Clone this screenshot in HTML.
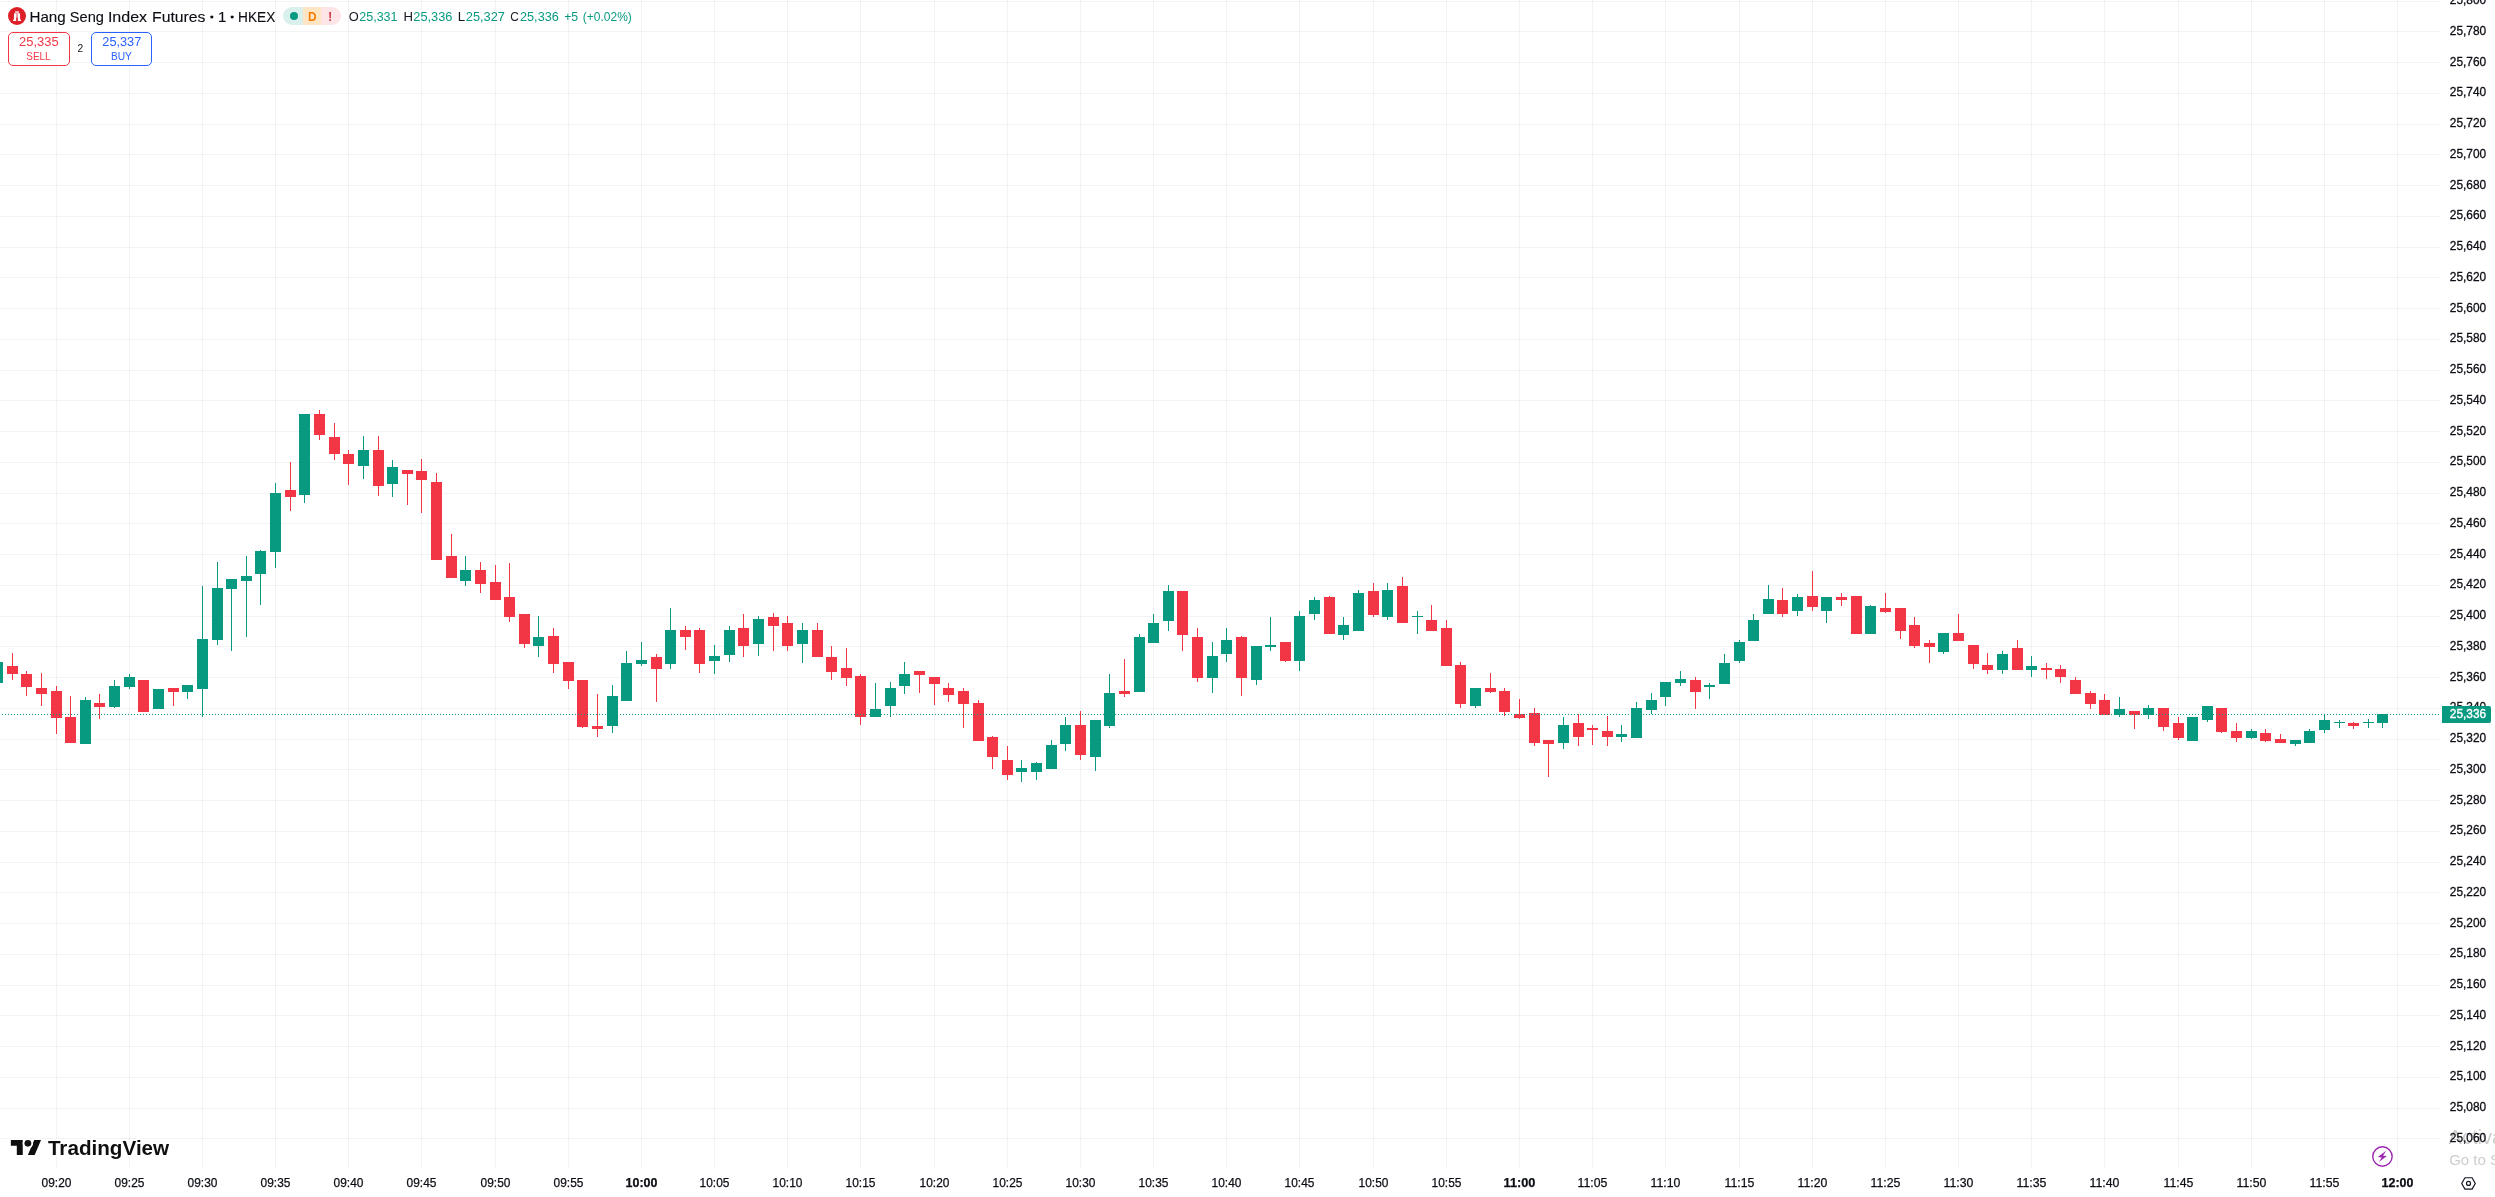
<!DOCTYPE html>
<html lang="en"><head><meta charset="utf-8"><title>Hang Seng Index Futures · 1 · HKEX — TradingView</title>
<style>
html,body{margin:0;padding:0;background:#fff;}
body{width:2495px;height:1197px;overflow:hidden;position:relative;font-family:"Liberation Sans",sans-serif;color:#131722;}
#chart{position:absolute;left:0;top:0;width:2495px;height:1197px;display:block;will-change:transform;}
text{font-family:"Liberation Sans",sans-serif;}
.btn{position:absolute;top:32px;height:32px;border-radius:5px;background:#fff;border:1px solid;}
#sell{left:8px;width:60px;border-color:#f23645;}
#buy{left:91px;width:59px;border-color:#2962ff;}
#lastprice{position:absolute;left:2442px;top:706px;width:49px;height:17px;background:#089981;border-radius:0 2px 2px 0;}
</style></head><body>
<svg id="chart" width="2495" height="1197" viewBox="0 0 2495 1197">
<g id="grid" shape-rendering="crispEdges" fill="rgba(46,46,46,0.06)">
<rect x="56" y="0" width="1" height="1169"/>
<rect x="129" y="0" width="1" height="1169"/>
<rect x="202" y="0" width="1" height="1169"/>
<rect x="275" y="0" width="1" height="1169"/>
<rect x="348" y="0" width="1" height="1169"/>
<rect x="421" y="0" width="1" height="1169"/>
<rect x="495" y="0" width="1" height="1169"/>
<rect x="568" y="0" width="1" height="1169"/>
<rect x="641" y="0" width="1" height="1169"/>
<rect x="714" y="0" width="1" height="1169"/>
<rect x="787" y="0" width="1" height="1169"/>
<rect x="860" y="0" width="1" height="1169"/>
<rect x="934" y="0" width="1" height="1169"/>
<rect x="1007" y="0" width="1" height="1169"/>
<rect x="1080" y="0" width="1" height="1169"/>
<rect x="1153" y="0" width="1" height="1169"/>
<rect x="1226" y="0" width="1" height="1169"/>
<rect x="1299" y="0" width="1" height="1169"/>
<rect x="1373" y="0" width="1" height="1169"/>
<rect x="1446" y="0" width="1" height="1169"/>
<rect x="1519" y="0" width="1" height="1169"/>
<rect x="1592" y="0" width="1" height="1169"/>
<rect x="1665" y="0" width="1" height="1169"/>
<rect x="1739" y="0" width="1" height="1169"/>
<rect x="1812" y="0" width="1" height="1169"/>
<rect x="1885" y="0" width="1" height="1169"/>
<rect x="1958" y="0" width="1" height="1169"/>
<rect x="2031" y="0" width="1" height="1169"/>
<rect x="2104" y="0" width="1" height="1169"/>
<rect x="2178" y="0" width="1" height="1169"/>
<rect x="2251" y="0" width="1" height="1169"/>
<rect x="2324" y="0" width="1" height="1169"/>
<rect x="2397" y="0" width="1" height="1169"/>
<rect x="0" y="1" width="2441" height="1"/>
<rect x="0" y="31" width="2441" height="1"/>
<rect x="0" y="62" width="2441" height="1"/>
<rect x="0" y="93" width="2441" height="1"/>
<rect x="0" y="124" width="2441" height="1"/>
<rect x="0" y="154" width="2441" height="1"/>
<rect x="0" y="185" width="2441" height="1"/>
<rect x="0" y="216" width="2441" height="1"/>
<rect x="0" y="247" width="2441" height="1"/>
<rect x="0" y="277" width="2441" height="1"/>
<rect x="0" y="308" width="2441" height="1"/>
<rect x="0" y="339" width="2441" height="1"/>
<rect x="0" y="370" width="2441" height="1"/>
<rect x="0" y="400" width="2441" height="1"/>
<rect x="0" y="431" width="2441" height="1"/>
<rect x="0" y="462" width="2441" height="1"/>
<rect x="0" y="493" width="2441" height="1"/>
<rect x="0" y="523" width="2441" height="1"/>
<rect x="0" y="554" width="2441" height="1"/>
<rect x="0" y="585" width="2441" height="1"/>
<rect x="0" y="616" width="2441" height="1"/>
<rect x="0" y="646" width="2441" height="1"/>
<rect x="0" y="677" width="2441" height="1"/>
<rect x="0" y="708" width="2441" height="1"/>
<rect x="0" y="739" width="2441" height="1"/>
<rect x="0" y="769" width="2441" height="1"/>
<rect x="0" y="800" width="2441" height="1"/>
<rect x="0" y="831" width="2441" height="1"/>
<rect x="0" y="862" width="2441" height="1"/>
<rect x="0" y="892" width="2441" height="1"/>
<rect x="0" y="923" width="2441" height="1"/>
<rect x="0" y="954" width="2441" height="1"/>
<rect x="0" y="985" width="2441" height="1"/>
<rect x="0" y="1015" width="2441" height="1"/>
<rect x="0" y="1046" width="2441" height="1"/>
<rect x="0" y="1077" width="2441" height="1"/>
<rect x="0" y="1108" width="2441" height="1"/>
<rect x="0" y="1138" width="2441" height="1"/>
</g>
<g id="watermark" fill="#cdcdcd">
<text x="2448.6" y="1143.8" font-size="20">Activate Windows</text>
<text x="2449.2" y="1164.9" font-size="15">Go to Settings to activate Windows.</text>
</g>
<g id="candles" shape-rendering="crispEdges">
<g fill="#089981"><rect x="-3" y="662" width="1" height="21"/><rect x="-8" y="662" width="11" height="21"/></g>
<g fill="#f23645"><rect x="12" y="653" width="1" height="27"/><rect x="7" y="666" width="11" height="8"/></g>
<g fill="#f23645"><rect x="26" y="671" width="1" height="25"/><rect x="21" y="674" width="11" height="13"/></g>
<g fill="#f23645"><rect x="41" y="673" width="1" height="33"/><rect x="36" y="688" width="11" height="6"/></g>
<g fill="#f23645"><rect x="56" y="686" width="1" height="48"/><rect x="51" y="691" width="11" height="27"/></g>
<g fill="#f23645"><rect x="70" y="696" width="1" height="47"/><rect x="65" y="717" width="11" height="26"/></g>
<g fill="#089981"><rect x="85" y="697" width="1" height="47"/><rect x="80" y="700" width="11" height="44"/></g>
<g fill="#f23645"><rect x="99" y="694" width="1" height="25"/><rect x="94" y="703" width="11" height="4"/></g>
<g fill="#089981"><rect x="114" y="680" width="1" height="28"/><rect x="109" y="686" width="11" height="21"/></g>
<g fill="#089981"><rect x="129" y="674" width="1" height="15"/><rect x="124" y="677" width="11" height="10"/></g>
<g fill="#f23645"><rect x="143" y="680" width="1" height="32"/><rect x="138" y="680" width="11" height="32"/></g>
<g fill="#089981"><rect x="158" y="689" width="1" height="20"/><rect x="153" y="689" width="11" height="20"/></g>
<g fill="#f23645"><rect x="173" y="688" width="1" height="18"/><rect x="168" y="688" width="11" height="4"/></g>
<g fill="#089981"><rect x="187" y="685" width="1" height="14"/><rect x="182" y="685" width="11" height="7"/></g>
<g fill="#089981"><rect x="202" y="586" width="1" height="131"/><rect x="197" y="639" width="11" height="50"/></g>
<g fill="#089981"><rect x="217" y="562" width="1" height="83"/><rect x="212" y="588" width="11" height="52"/></g>
<g fill="#089981"><rect x="231" y="579" width="1" height="72"/><rect x="226" y="579" width="11" height="10"/></g>
<g fill="#089981"><rect x="246" y="556" width="1" height="81"/><rect x="241" y="576" width="11" height="5"/></g>
<g fill="#089981"><rect x="260" y="550" width="1" height="55"/><rect x="255" y="551" width="11" height="23"/></g>
<g fill="#089981"><rect x="275" y="483" width="1" height="85"/><rect x="270" y="493" width="11" height="59"/></g>
<g fill="#f23645"><rect x="290" y="462" width="1" height="49"/><rect x="285" y="490" width="11" height="7"/></g>
<g fill="#089981"><rect x="304" y="414" width="1" height="89"/><rect x="299" y="414" width="11" height="81"/></g>
<g fill="#f23645"><rect x="319" y="410" width="1" height="30"/><rect x="314" y="414" width="11" height="21"/></g>
<g fill="#f23645"><rect x="334" y="423" width="1" height="37"/><rect x="329" y="437" width="11" height="17"/></g>
<g fill="#f23645"><rect x="348" y="450" width="1" height="35"/><rect x="343" y="454" width="11" height="10"/></g>
<g fill="#089981"><rect x="363" y="436" width="1" height="43"/><rect x="358" y="450" width="11" height="16"/></g>
<g fill="#f23645"><rect x="378" y="436" width="1" height="60"/><rect x="373" y="450" width="11" height="36"/></g>
<g fill="#089981"><rect x="392" y="460" width="1" height="37"/><rect x="387" y="467" width="11" height="17"/></g>
<g fill="#f23645"><rect x="407" y="470" width="1" height="35"/><rect x="402" y="470" width="11" height="4"/></g>
<g fill="#f23645"><rect x="421" y="459" width="1" height="54"/><rect x="416" y="471" width="11" height="9"/></g>
<g fill="#f23645"><rect x="436" y="473" width="1" height="87"/><rect x="431" y="482" width="11" height="78"/></g>
<g fill="#f23645"><rect x="451" y="534" width="1" height="44"/><rect x="446" y="556" width="11" height="22"/></g>
<g fill="#089981"><rect x="465" y="556" width="1" height="30"/><rect x="460" y="570" width="11" height="11"/></g>
<g fill="#f23645"><rect x="480" y="562" width="1" height="31"/><rect x="475" y="570" width="11" height="14"/></g>
<g fill="#f23645"><rect x="495" y="565" width="1" height="35"/><rect x="490" y="582" width="11" height="18"/></g>
<g fill="#f23645"><rect x="509" y="563" width="1" height="59"/><rect x="504" y="597" width="11" height="20"/></g>
<g fill="#f23645"><rect x="524" y="614" width="1" height="34"/><rect x="519" y="614" width="11" height="30"/></g>
<g fill="#089981"><rect x="538" y="616" width="1" height="41"/><rect x="533" y="637" width="11" height="9"/></g>
<g fill="#f23645"><rect x="553" y="628" width="1" height="45"/><rect x="548" y="636" width="11" height="28"/></g>
<g fill="#f23645"><rect x="568" y="662" width="1" height="27"/><rect x="563" y="662" width="11" height="19"/></g>
<g fill="#f23645"><rect x="582" y="680" width="1" height="48"/><rect x="577" y="680" width="11" height="47"/></g>
<g fill="#f23645"><rect x="597" y="694" width="1" height="43"/><rect x="592" y="726" width="11" height="3"/></g>
<g fill="#089981"><rect x="612" y="685" width="1" height="48"/><rect x="607" y="696" width="11" height="30"/></g>
<g fill="#089981"><rect x="626" y="651" width="1" height="50"/><rect x="621" y="663" width="11" height="38"/></g>
<g fill="#089981"><rect x="641" y="642" width="1" height="24"/><rect x="636" y="660" width="11" height="4"/></g>
<g fill="#f23645"><rect x="656" y="654" width="1" height="48"/><rect x="651" y="657" width="11" height="12"/></g>
<g fill="#089981"><rect x="670" y="608" width="1" height="61"/><rect x="665" y="630" width="11" height="34"/></g>
<g fill="#f23645"><rect x="685" y="626" width="1" height="24"/><rect x="680" y="630" width="11" height="7"/></g>
<g fill="#f23645"><rect x="699" y="628" width="1" height="45"/><rect x="694" y="630" width="11" height="34"/></g>
<g fill="#089981"><rect x="714" y="645" width="1" height="29"/><rect x="709" y="656" width="11" height="5"/></g>
<g fill="#089981"><rect x="729" y="626" width="1" height="36"/><rect x="724" y="630" width="11" height="25"/></g>
<g fill="#f23645"><rect x="743" y="614" width="1" height="43"/><rect x="738" y="628" width="11" height="18"/></g>
<g fill="#089981"><rect x="758" y="616" width="1" height="40"/><rect x="753" y="619" width="11" height="25"/></g>
<g fill="#f23645"><rect x="773" y="613" width="1" height="38"/><rect x="768" y="617" width="11" height="9"/></g>
<g fill="#f23645"><rect x="787" y="616" width="1" height="35"/><rect x="782" y="623" width="11" height="23"/></g>
<g fill="#089981"><rect x="802" y="623" width="1" height="40"/><rect x="797" y="630" width="11" height="14"/></g>
<g fill="#f23645"><rect x="817" y="623" width="1" height="34"/><rect x="812" y="630" width="11" height="27"/></g>
<g fill="#f23645"><rect x="831" y="646" width="1" height="34"/><rect x="826" y="657" width="11" height="15"/></g>
<g fill="#f23645"><rect x="846" y="648" width="1" height="38"/><rect x="841" y="668" width="11" height="10"/></g>
<g fill="#f23645"><rect x="860" y="674" width="1" height="51"/><rect x="855" y="676" width="11" height="41"/></g>
<g fill="#089981"><rect x="875" y="683" width="1" height="34"/><rect x="870" y="709" width="11" height="8"/></g>
<g fill="#089981"><rect x="890" y="682" width="1" height="35"/><rect x="885" y="688" width="11" height="18"/></g>
<g fill="#089981"><rect x="904" y="662" width="1" height="32"/><rect x="899" y="674" width="11" height="12"/></g>
<g fill="#f23645"><rect x="919" y="671" width="1" height="22"/><rect x="914" y="671" width="11" height="4"/></g>
<g fill="#f23645"><rect x="934" y="677" width="1" height="28"/><rect x="929" y="677" width="11" height="7"/></g>
<g fill="#f23645"><rect x="948" y="683" width="1" height="19"/><rect x="943" y="688" width="11" height="7"/></g>
<g fill="#f23645"><rect x="963" y="688" width="1" height="40"/><rect x="958" y="691" width="11" height="13"/></g>
<g fill="#f23645"><rect x="978" y="700" width="1" height="41"/><rect x="973" y="703" width="11" height="38"/></g>
<g fill="#f23645"><rect x="992" y="736" width="1" height="33"/><rect x="987" y="737" width="11" height="20"/></g>
<g fill="#f23645"><rect x="1007" y="746" width="1" height="34"/><rect x="1002" y="760" width="11" height="15"/></g>
<g fill="#089981"><rect x="1021" y="760" width="1" height="22"/><rect x="1016" y="768" width="11" height="4"/></g>
<g fill="#089981"><rect x="1036" y="762" width="1" height="18"/><rect x="1031" y="763" width="11" height="9"/></g>
<g fill="#089981"><rect x="1051" y="740" width="1" height="29"/><rect x="1046" y="745" width="11" height="24"/></g>
<g fill="#089981"><rect x="1065" y="717" width="1" height="34"/><rect x="1060" y="725" width="11" height="19"/></g>
<g fill="#f23645"><rect x="1080" y="711" width="1" height="49"/><rect x="1075" y="725" width="11" height="30"/></g>
<g fill="#089981"><rect x="1095" y="720" width="1" height="51"/><rect x="1090" y="720" width="11" height="37"/></g>
<g fill="#089981"><rect x="1109" y="674" width="1" height="54"/><rect x="1104" y="693" width="11" height="33"/></g>
<g fill="#f23645"><rect x="1124" y="659" width="1" height="38"/><rect x="1119" y="691" width="11" height="3"/></g>
<g fill="#089981"><rect x="1139" y="634" width="1" height="58"/><rect x="1134" y="637" width="11" height="55"/></g>
<g fill="#089981"><rect x="1153" y="614" width="1" height="29"/><rect x="1148" y="623" width="11" height="20"/></g>
<g fill="#089981"><rect x="1168" y="585" width="1" height="46"/><rect x="1163" y="591" width="11" height="30"/></g>
<g fill="#f23645"><rect x="1182" y="591" width="1" height="60"/><rect x="1177" y="591" width="11" height="44"/></g>
<g fill="#f23645"><rect x="1197" y="628" width="1" height="54"/><rect x="1192" y="637" width="11" height="41"/></g>
<g fill="#089981"><rect x="1212" y="642" width="1" height="51"/><rect x="1207" y="656" width="11" height="22"/></g>
<g fill="#089981"><rect x="1226" y="628" width="1" height="34"/><rect x="1221" y="640" width="11" height="14"/></g>
<g fill="#f23645"><rect x="1241" y="636" width="1" height="60"/><rect x="1236" y="637" width="11" height="41"/></g>
<g fill="#089981"><rect x="1256" y="646" width="1" height="39"/><rect x="1251" y="646" width="11" height="34"/></g>
<g fill="#089981"><rect x="1270" y="617" width="1" height="34"/><rect x="1265" y="645" width="11" height="2"/></g>
<g fill="#f23645"><rect x="1285" y="642" width="1" height="20"/><rect x="1280" y="642" width="11" height="19"/></g>
<g fill="#089981"><rect x="1299" y="611" width="1" height="60"/><rect x="1294" y="616" width="11" height="45"/></g>
<g fill="#089981"><rect x="1314" y="597" width="1" height="23"/><rect x="1309" y="600" width="11" height="14"/></g>
<g fill="#f23645"><rect x="1329" y="596" width="1" height="38"/><rect x="1324" y="597" width="11" height="37"/></g>
<g fill="#089981"><rect x="1343" y="617" width="1" height="23"/><rect x="1338" y="625" width="11" height="10"/></g>
<g fill="#089981"><rect x="1358" y="590" width="1" height="41"/><rect x="1353" y="593" width="11" height="38"/></g>
<g fill="#f23645"><rect x="1373" y="583" width="1" height="34"/><rect x="1368" y="591" width="11" height="24"/></g>
<g fill="#089981"><rect x="1387" y="583" width="1" height="37"/><rect x="1382" y="590" width="11" height="27"/></g>
<g fill="#f23645"><rect x="1402" y="577" width="1" height="46"/><rect x="1397" y="586" width="11" height="37"/></g>
<g fill="#089981"><rect x="1417" y="611" width="1" height="23"/><rect x="1412" y="616" width="11" height="1"/></g>
<g fill="#f23645"><rect x="1431" y="605" width="1" height="26"/><rect x="1426" y="620" width="11" height="11"/></g>
<g fill="#f23645"><rect x="1446" y="620" width="1" height="46"/><rect x="1441" y="628" width="11" height="38"/></g>
<g fill="#f23645"><rect x="1460" y="662" width="1" height="46"/><rect x="1455" y="665" width="11" height="39"/></g>
<g fill="#089981"><rect x="1475" y="688" width="1" height="20"/><rect x="1470" y="688" width="11" height="18"/></g>
<g fill="#f23645"><rect x="1490" y="673" width="1" height="20"/><rect x="1485" y="688" width="11" height="4"/></g>
<g fill="#f23645"><rect x="1504" y="688" width="1" height="28"/><rect x="1499" y="691" width="11" height="21"/></g>
<g fill="#f23645"><rect x="1519" y="699" width="1" height="20"/><rect x="1514" y="714" width="11" height="4"/></g>
<g fill="#f23645"><rect x="1534" y="708" width="1" height="38"/><rect x="1529" y="713" width="11" height="30"/></g>
<g fill="#f23645"><rect x="1548" y="740" width="1" height="37"/><rect x="1543" y="740" width="11" height="4"/></g>
<g fill="#089981"><rect x="1563" y="717" width="1" height="32"/><rect x="1558" y="725" width="11" height="18"/></g>
<g fill="#f23645"><rect x="1578" y="714" width="1" height="32"/><rect x="1573" y="723" width="11" height="14"/></g>
<g fill="#f23645"><rect x="1592" y="725" width="1" height="20"/><rect x="1587" y="728" width="11" height="2"/></g>
<g fill="#f23645"><rect x="1607" y="716" width="1" height="30"/><rect x="1602" y="731" width="11" height="6"/></g>
<g fill="#089981"><rect x="1621" y="725" width="1" height="17"/><rect x="1616" y="734" width="11" height="3"/></g>
<g fill="#089981"><rect x="1636" y="702" width="1" height="36"/><rect x="1631" y="708" width="11" height="30"/></g>
<g fill="#089981"><rect x="1651" y="693" width="1" height="21"/><rect x="1646" y="700" width="11" height="10"/></g>
<g fill="#089981"><rect x="1665" y="682" width="1" height="24"/><rect x="1660" y="682" width="11" height="15"/></g>
<g fill="#089981"><rect x="1680" y="671" width="1" height="15"/><rect x="1675" y="679" width="11" height="4"/></g>
<g fill="#f23645"><rect x="1695" y="677" width="1" height="32"/><rect x="1690" y="680" width="11" height="12"/></g>
<g fill="#089981"><rect x="1709" y="683" width="1" height="16"/><rect x="1704" y="685" width="11" height="2"/></g>
<g fill="#089981"><rect x="1724" y="654" width="1" height="30"/><rect x="1719" y="663" width="11" height="21"/></g>
<g fill="#089981"><rect x="1739" y="640" width="1" height="23"/><rect x="1734" y="642" width="11" height="19"/></g>
<g fill="#089981"><rect x="1753" y="614" width="1" height="27"/><rect x="1748" y="620" width="11" height="21"/></g>
<g fill="#089981"><rect x="1768" y="585" width="1" height="29"/><rect x="1763" y="599" width="11" height="15"/></g>
<g fill="#f23645"><rect x="1782" y="588" width="1" height="29"/><rect x="1777" y="600" width="11" height="14"/></g>
<g fill="#089981"><rect x="1797" y="594" width="1" height="22"/><rect x="1792" y="597" width="11" height="14"/></g>
<g fill="#f23645"><rect x="1812" y="571" width="1" height="40"/><rect x="1807" y="596" width="11" height="11"/></g>
<g fill="#089981"><rect x="1826" y="597" width="1" height="26"/><rect x="1821" y="597" width="11" height="14"/></g>
<g fill="#f23645"><rect x="1841" y="593" width="1" height="13"/><rect x="1836" y="597" width="11" height="3"/></g>
<g fill="#f23645"><rect x="1856" y="596" width="1" height="38"/><rect x="1851" y="596" width="11" height="38"/></g>
<g fill="#089981"><rect x="1870" y="605" width="1" height="29"/><rect x="1865" y="606" width="11" height="28"/></g>
<g fill="#f23645"><rect x="1885" y="593" width="1" height="20"/><rect x="1880" y="608" width="11" height="4"/></g>
<g fill="#f23645"><rect x="1900" y="608" width="1" height="31"/><rect x="1895" y="608" width="11" height="23"/></g>
<g fill="#f23645"><rect x="1914" y="617" width="1" height="31"/><rect x="1909" y="625" width="11" height="21"/></g>
<g fill="#f23645"><rect x="1929" y="640" width="1" height="23"/><rect x="1924" y="643" width="11" height="4"/></g>
<g fill="#089981"><rect x="1943" y="633" width="1" height="21"/><rect x="1938" y="633" width="11" height="19"/></g>
<g fill="#f23645"><rect x="1958" y="614" width="1" height="27"/><rect x="1953" y="633" width="11" height="8"/></g>
<g fill="#f23645"><rect x="1973" y="645" width="1" height="24"/><rect x="1968" y="645" width="11" height="19"/></g>
<g fill="#f23645"><rect x="1987" y="653" width="1" height="21"/><rect x="1982" y="665" width="11" height="5"/></g>
<g fill="#089981"><rect x="2002" y="651" width="1" height="23"/><rect x="1997" y="654" width="11" height="16"/></g>
<g fill="#f23645"><rect x="2017" y="640" width="1" height="30"/><rect x="2012" y="648" width="11" height="22"/></g>
<g fill="#089981"><rect x="2031" y="656" width="1" height="21"/><rect x="2026" y="666" width="11" height="4"/></g>
<g fill="#f23645"><rect x="2046" y="663" width="1" height="16"/><rect x="2041" y="668" width="11" height="2"/></g>
<g fill="#f23645"><rect x="2060" y="665" width="1" height="18"/><rect x="2055" y="669" width="11" height="8"/></g>
<g fill="#f23645"><rect x="2075" y="677" width="1" height="17"/><rect x="2070" y="680" width="11" height="14"/></g>
<g fill="#f23645"><rect x="2090" y="691" width="1" height="18"/><rect x="2085" y="693" width="11" height="11"/></g>
<g fill="#f23645"><rect x="2104" y="694" width="1" height="21"/><rect x="2099" y="700" width="11" height="15"/></g>
<g fill="#089981"><rect x="2119" y="697" width="1" height="20"/><rect x="2114" y="709" width="11" height="6"/></g>
<g fill="#f23645"><rect x="2134" y="711" width="1" height="18"/><rect x="2129" y="711" width="11" height="4"/></g>
<g fill="#089981"><rect x="2148" y="705" width="1" height="14"/><rect x="2143" y="708" width="11" height="7"/></g>
<g fill="#f23645"><rect x="2163" y="708" width="1" height="23"/><rect x="2158" y="708" width="11" height="19"/></g>
<g fill="#f23645"><rect x="2178" y="717" width="1" height="23"/><rect x="2173" y="723" width="11" height="15"/></g>
<g fill="#089981"><rect x="2192" y="717" width="1" height="24"/><rect x="2187" y="717" width="11" height="24"/></g>
<g fill="#089981"><rect x="2207" y="706" width="1" height="16"/><rect x="2202" y="706" width="11" height="14"/></g>
<g fill="#f23645"><rect x="2221" y="708" width="1" height="25"/><rect x="2216" y="708" width="11" height="24"/></g>
<g fill="#f23645"><rect x="2236" y="723" width="1" height="19"/><rect x="2231" y="731" width="11" height="7"/></g>
<g fill="#089981"><rect x="2251" y="729" width="1" height="10"/><rect x="2246" y="731" width="11" height="7"/></g>
<g fill="#f23645"><rect x="2265" y="729" width="1" height="13"/><rect x="2260" y="733" width="11" height="8"/></g>
<g fill="#f23645"><rect x="2280" y="734" width="1" height="9"/><rect x="2275" y="739" width="11" height="4"/></g>
<g fill="#089981"><rect x="2295" y="740" width="1" height="6"/><rect x="2290" y="740" width="11" height="4"/></g>
<g fill="#089981"><rect x="2309" y="729" width="1" height="14"/><rect x="2304" y="731" width="11" height="12"/></g>
<g fill="#089981"><rect x="2324" y="714" width="1" height="19"/><rect x="2319" y="720" width="11" height="10"/></g>
<g fill="#089981"><rect x="2339" y="720" width="1" height="8"/><rect x="2334" y="722" width="11" height="1"/></g>
<g fill="#f23645"><rect x="2353" y="722" width="1" height="7"/><rect x="2348" y="723" width="11" height="3"/></g>
<g fill="#089981"><rect x="2368" y="719" width="1" height="9"/><rect x="2363" y="722" width="11" height="1"/></g>
<g fill="#089981"><rect x="2382" y="714" width="1" height="14"/><rect x="2377" y="714" width="11" height="9"/></g>
</g>
<g id="priceline" shape-rendering="crispEdges" fill="#089981">
<path d="M2 714h1v1h-1zM5 714h1v1h-1zM8 714h1v1h-1zM11 714h1v1h-1zM14 714h1v1h-1zM17 714h1v1h-1zM20 714h1v1h-1zM23 714h1v1h-1zM26 714h1v1h-1zM29 714h1v1h-1zM32 714h1v1h-1zM35 714h1v1h-1zM38 714h1v1h-1zM41 714h1v1h-1zM44 714h1v1h-1zM47 714h1v1h-1zM50 714h1v1h-1zM53 714h1v1h-1zM56 714h1v1h-1zM59 714h1v1h-1zM62 714h1v1h-1zM65 714h1v1h-1zM68 714h1v1h-1zM71 714h1v1h-1zM74 714h1v1h-1zM77 714h1v1h-1zM80 714h1v1h-1zM83 714h1v1h-1zM86 714h1v1h-1zM89 714h1v1h-1zM92 714h1v1h-1zM95 714h1v1h-1zM98 714h1v1h-1zM101 714h1v1h-1zM104 714h1v1h-1zM107 714h1v1h-1zM110 714h1v1h-1zM113 714h1v1h-1zM116 714h1v1h-1zM119 714h1v1h-1zM122 714h1v1h-1zM125 714h1v1h-1zM128 714h1v1h-1zM131 714h1v1h-1zM134 714h1v1h-1zM137 714h1v1h-1zM140 714h1v1h-1zM143 714h1v1h-1zM146 714h1v1h-1zM149 714h1v1h-1zM152 714h1v1h-1zM155 714h1v1h-1zM158 714h1v1h-1zM161 714h1v1h-1zM164 714h1v1h-1zM167 714h1v1h-1zM170 714h1v1h-1zM173 714h1v1h-1zM176 714h1v1h-1zM179 714h1v1h-1zM182 714h1v1h-1zM185 714h1v1h-1zM188 714h1v1h-1zM191 714h1v1h-1zM194 714h1v1h-1zM197 714h1v1h-1zM200 714h1v1h-1zM203 714h1v1h-1zM206 714h1v1h-1zM209 714h1v1h-1zM212 714h1v1h-1zM215 714h1v1h-1zM218 714h1v1h-1zM221 714h1v1h-1zM224 714h1v1h-1zM227 714h1v1h-1zM230 714h1v1h-1zM233 714h1v1h-1zM236 714h1v1h-1zM239 714h1v1h-1zM242 714h1v1h-1zM245 714h1v1h-1zM248 714h1v1h-1zM251 714h1v1h-1zM254 714h1v1h-1zM257 714h1v1h-1zM260 714h1v1h-1zM263 714h1v1h-1zM266 714h1v1h-1zM269 714h1v1h-1zM272 714h1v1h-1zM275 714h1v1h-1zM278 714h1v1h-1zM281 714h1v1h-1zM284 714h1v1h-1zM287 714h1v1h-1zM290 714h1v1h-1zM293 714h1v1h-1zM296 714h1v1h-1zM299 714h1v1h-1zM302 714h1v1h-1zM305 714h1v1h-1zM308 714h1v1h-1zM311 714h1v1h-1zM314 714h1v1h-1zM317 714h1v1h-1zM320 714h1v1h-1zM323 714h1v1h-1zM326 714h1v1h-1zM329 714h1v1h-1zM332 714h1v1h-1zM335 714h1v1h-1zM338 714h1v1h-1zM341 714h1v1h-1zM344 714h1v1h-1zM347 714h1v1h-1zM350 714h1v1h-1zM353 714h1v1h-1zM356 714h1v1h-1zM359 714h1v1h-1zM362 714h1v1h-1zM365 714h1v1h-1zM368 714h1v1h-1zM371 714h1v1h-1zM374 714h1v1h-1zM377 714h1v1h-1zM380 714h1v1h-1zM383 714h1v1h-1zM386 714h1v1h-1zM389 714h1v1h-1zM392 714h1v1h-1zM395 714h1v1h-1zM398 714h1v1h-1zM401 714h1v1h-1zM404 714h1v1h-1zM407 714h1v1h-1zM410 714h1v1h-1zM413 714h1v1h-1zM416 714h1v1h-1zM419 714h1v1h-1zM422 714h1v1h-1zM425 714h1v1h-1zM428 714h1v1h-1zM431 714h1v1h-1zM434 714h1v1h-1zM437 714h1v1h-1zM440 714h1v1h-1zM443 714h1v1h-1zM446 714h1v1h-1zM449 714h1v1h-1zM452 714h1v1h-1zM455 714h1v1h-1zM458 714h1v1h-1zM461 714h1v1h-1zM464 714h1v1h-1zM467 714h1v1h-1zM470 714h1v1h-1zM473 714h1v1h-1zM476 714h1v1h-1zM479 714h1v1h-1zM482 714h1v1h-1zM485 714h1v1h-1zM488 714h1v1h-1zM491 714h1v1h-1zM494 714h1v1h-1zM497 714h1v1h-1zM500 714h1v1h-1zM503 714h1v1h-1zM506 714h1v1h-1zM509 714h1v1h-1zM512 714h1v1h-1zM515 714h1v1h-1zM518 714h1v1h-1zM521 714h1v1h-1zM524 714h1v1h-1zM527 714h1v1h-1zM530 714h1v1h-1zM533 714h1v1h-1zM536 714h1v1h-1zM539 714h1v1h-1zM542 714h1v1h-1zM545 714h1v1h-1zM548 714h1v1h-1zM551 714h1v1h-1zM554 714h1v1h-1zM557 714h1v1h-1zM560 714h1v1h-1zM563 714h1v1h-1zM566 714h1v1h-1zM569 714h1v1h-1zM572 714h1v1h-1zM575 714h1v1h-1zM578 714h1v1h-1zM581 714h1v1h-1zM584 714h1v1h-1zM587 714h1v1h-1zM590 714h1v1h-1zM593 714h1v1h-1zM596 714h1v1h-1zM599 714h1v1h-1zM602 714h1v1h-1zM605 714h1v1h-1zM608 714h1v1h-1zM611 714h1v1h-1zM614 714h1v1h-1zM617 714h1v1h-1zM620 714h1v1h-1zM623 714h1v1h-1zM626 714h1v1h-1zM629 714h1v1h-1zM632 714h1v1h-1zM635 714h1v1h-1zM638 714h1v1h-1zM641 714h1v1h-1zM644 714h1v1h-1zM647 714h1v1h-1zM650 714h1v1h-1zM653 714h1v1h-1zM656 714h1v1h-1zM659 714h1v1h-1zM662 714h1v1h-1zM665 714h1v1h-1zM668 714h1v1h-1zM671 714h1v1h-1zM674 714h1v1h-1zM677 714h1v1h-1zM680 714h1v1h-1zM683 714h1v1h-1zM686 714h1v1h-1zM689 714h1v1h-1zM692 714h1v1h-1zM695 714h1v1h-1zM698 714h1v1h-1zM701 714h1v1h-1zM704 714h1v1h-1zM707 714h1v1h-1zM710 714h1v1h-1zM713 714h1v1h-1zM716 714h1v1h-1zM719 714h1v1h-1zM722 714h1v1h-1zM725 714h1v1h-1zM728 714h1v1h-1zM731 714h1v1h-1zM734 714h1v1h-1zM737 714h1v1h-1zM740 714h1v1h-1zM743 714h1v1h-1zM746 714h1v1h-1zM749 714h1v1h-1zM752 714h1v1h-1zM755 714h1v1h-1zM758 714h1v1h-1zM761 714h1v1h-1zM764 714h1v1h-1zM767 714h1v1h-1zM770 714h1v1h-1zM773 714h1v1h-1zM776 714h1v1h-1zM779 714h1v1h-1zM782 714h1v1h-1zM785 714h1v1h-1zM788 714h1v1h-1zM791 714h1v1h-1zM794 714h1v1h-1zM797 714h1v1h-1zM800 714h1v1h-1zM803 714h1v1h-1zM806 714h1v1h-1zM809 714h1v1h-1zM812 714h1v1h-1zM815 714h1v1h-1zM818 714h1v1h-1zM821 714h1v1h-1zM824 714h1v1h-1zM827 714h1v1h-1zM830 714h1v1h-1zM833 714h1v1h-1zM836 714h1v1h-1zM839 714h1v1h-1zM842 714h1v1h-1zM845 714h1v1h-1zM848 714h1v1h-1zM851 714h1v1h-1zM854 714h1v1h-1zM857 714h1v1h-1zM860 714h1v1h-1zM863 714h1v1h-1zM866 714h1v1h-1zM869 714h1v1h-1zM872 714h1v1h-1zM875 714h1v1h-1zM878 714h1v1h-1zM881 714h1v1h-1zM884 714h1v1h-1zM887 714h1v1h-1zM890 714h1v1h-1zM893 714h1v1h-1zM896 714h1v1h-1zM899 714h1v1h-1zM902 714h1v1h-1zM905 714h1v1h-1zM908 714h1v1h-1zM911 714h1v1h-1zM914 714h1v1h-1zM917 714h1v1h-1zM920 714h1v1h-1zM923 714h1v1h-1zM926 714h1v1h-1zM929 714h1v1h-1zM932 714h1v1h-1zM935 714h1v1h-1zM938 714h1v1h-1zM941 714h1v1h-1zM944 714h1v1h-1zM947 714h1v1h-1zM950 714h1v1h-1zM953 714h1v1h-1zM956 714h1v1h-1zM959 714h1v1h-1zM962 714h1v1h-1zM965 714h1v1h-1zM968 714h1v1h-1zM971 714h1v1h-1zM974 714h1v1h-1zM977 714h1v1h-1zM980 714h1v1h-1zM983 714h1v1h-1zM986 714h1v1h-1zM989 714h1v1h-1zM992 714h1v1h-1zM995 714h1v1h-1zM998 714h1v1h-1zM1001 714h1v1h-1zM1004 714h1v1h-1zM1007 714h1v1h-1zM1010 714h1v1h-1zM1013 714h1v1h-1zM1016 714h1v1h-1zM1019 714h1v1h-1zM1022 714h1v1h-1zM1025 714h1v1h-1zM1028 714h1v1h-1zM1031 714h1v1h-1zM1034 714h1v1h-1zM1037 714h1v1h-1zM1040 714h1v1h-1zM1043 714h1v1h-1zM1046 714h1v1h-1zM1049 714h1v1h-1zM1052 714h1v1h-1zM1055 714h1v1h-1zM1058 714h1v1h-1zM1061 714h1v1h-1zM1064 714h1v1h-1zM1067 714h1v1h-1zM1070 714h1v1h-1zM1073 714h1v1h-1zM1076 714h1v1h-1zM1079 714h1v1h-1zM1082 714h1v1h-1zM1085 714h1v1h-1zM1088 714h1v1h-1zM1091 714h1v1h-1zM1094 714h1v1h-1zM1097 714h1v1h-1zM1100 714h1v1h-1zM1103 714h1v1h-1zM1106 714h1v1h-1zM1109 714h1v1h-1zM1112 714h1v1h-1zM1115 714h1v1h-1zM1118 714h1v1h-1zM1121 714h1v1h-1zM1124 714h1v1h-1zM1127 714h1v1h-1zM1130 714h1v1h-1zM1133 714h1v1h-1zM1136 714h1v1h-1zM1139 714h1v1h-1zM1142 714h1v1h-1zM1145 714h1v1h-1zM1148 714h1v1h-1zM1151 714h1v1h-1zM1154 714h1v1h-1zM1157 714h1v1h-1zM1160 714h1v1h-1zM1163 714h1v1h-1zM1166 714h1v1h-1zM1169 714h1v1h-1zM1172 714h1v1h-1zM1175 714h1v1h-1zM1178 714h1v1h-1zM1181 714h1v1h-1zM1184 714h1v1h-1zM1187 714h1v1h-1zM1190 714h1v1h-1zM1193 714h1v1h-1zM1196 714h1v1h-1zM1199 714h1v1h-1zM1202 714h1v1h-1zM1205 714h1v1h-1zM1208 714h1v1h-1zM1211 714h1v1h-1zM1214 714h1v1h-1zM1217 714h1v1h-1zM1220 714h1v1h-1zM1223 714h1v1h-1zM1226 714h1v1h-1zM1229 714h1v1h-1zM1232 714h1v1h-1zM1235 714h1v1h-1zM1238 714h1v1h-1zM1241 714h1v1h-1zM1244 714h1v1h-1zM1247 714h1v1h-1zM1250 714h1v1h-1zM1253 714h1v1h-1zM1256 714h1v1h-1zM1259 714h1v1h-1zM1262 714h1v1h-1zM1265 714h1v1h-1zM1268 714h1v1h-1zM1271 714h1v1h-1zM1274 714h1v1h-1zM1277 714h1v1h-1zM1280 714h1v1h-1zM1283 714h1v1h-1zM1286 714h1v1h-1zM1289 714h1v1h-1zM1292 714h1v1h-1zM1295 714h1v1h-1zM1298 714h1v1h-1zM1301 714h1v1h-1zM1304 714h1v1h-1zM1307 714h1v1h-1zM1310 714h1v1h-1zM1313 714h1v1h-1zM1316 714h1v1h-1zM1319 714h1v1h-1zM1322 714h1v1h-1zM1325 714h1v1h-1zM1328 714h1v1h-1zM1331 714h1v1h-1zM1334 714h1v1h-1zM1337 714h1v1h-1zM1340 714h1v1h-1zM1343 714h1v1h-1zM1346 714h1v1h-1zM1349 714h1v1h-1zM1352 714h1v1h-1zM1355 714h1v1h-1zM1358 714h1v1h-1zM1361 714h1v1h-1zM1364 714h1v1h-1zM1367 714h1v1h-1zM1370 714h1v1h-1zM1373 714h1v1h-1zM1376 714h1v1h-1zM1379 714h1v1h-1zM1382 714h1v1h-1zM1385 714h1v1h-1zM1388 714h1v1h-1zM1391 714h1v1h-1zM1394 714h1v1h-1zM1397 714h1v1h-1zM1400 714h1v1h-1zM1403 714h1v1h-1zM1406 714h1v1h-1zM1409 714h1v1h-1zM1412 714h1v1h-1zM1415 714h1v1h-1zM1418 714h1v1h-1zM1421 714h1v1h-1zM1424 714h1v1h-1zM1427 714h1v1h-1zM1430 714h1v1h-1zM1433 714h1v1h-1zM1436 714h1v1h-1zM1439 714h1v1h-1zM1442 714h1v1h-1zM1445 714h1v1h-1zM1448 714h1v1h-1zM1451 714h1v1h-1zM1454 714h1v1h-1zM1457 714h1v1h-1zM1460 714h1v1h-1zM1463 714h1v1h-1zM1466 714h1v1h-1zM1469 714h1v1h-1zM1472 714h1v1h-1zM1475 714h1v1h-1zM1478 714h1v1h-1zM1481 714h1v1h-1zM1484 714h1v1h-1zM1487 714h1v1h-1zM1490 714h1v1h-1zM1493 714h1v1h-1zM1496 714h1v1h-1zM1499 714h1v1h-1zM1502 714h1v1h-1zM1505 714h1v1h-1zM1508 714h1v1h-1zM1511 714h1v1h-1zM1514 714h1v1h-1zM1517 714h1v1h-1zM1520 714h1v1h-1zM1523 714h1v1h-1zM1526 714h1v1h-1zM1529 714h1v1h-1zM1532 714h1v1h-1zM1535 714h1v1h-1zM1538 714h1v1h-1zM1541 714h1v1h-1zM1544 714h1v1h-1zM1547 714h1v1h-1zM1550 714h1v1h-1zM1553 714h1v1h-1zM1556 714h1v1h-1zM1559 714h1v1h-1zM1562 714h1v1h-1zM1565 714h1v1h-1zM1568 714h1v1h-1zM1571 714h1v1h-1zM1574 714h1v1h-1zM1577 714h1v1h-1zM1580 714h1v1h-1zM1583 714h1v1h-1zM1586 714h1v1h-1zM1589 714h1v1h-1zM1592 714h1v1h-1zM1595 714h1v1h-1zM1598 714h1v1h-1zM1601 714h1v1h-1zM1604 714h1v1h-1zM1607 714h1v1h-1zM1610 714h1v1h-1zM1613 714h1v1h-1zM1616 714h1v1h-1zM1619 714h1v1h-1zM1622 714h1v1h-1zM1625 714h1v1h-1zM1628 714h1v1h-1zM1631 714h1v1h-1zM1634 714h1v1h-1zM1637 714h1v1h-1zM1640 714h1v1h-1zM1643 714h1v1h-1zM1646 714h1v1h-1zM1649 714h1v1h-1zM1652 714h1v1h-1zM1655 714h1v1h-1zM1658 714h1v1h-1zM1661 714h1v1h-1zM1664 714h1v1h-1zM1667 714h1v1h-1zM1670 714h1v1h-1zM1673 714h1v1h-1zM1676 714h1v1h-1zM1679 714h1v1h-1zM1682 714h1v1h-1zM1685 714h1v1h-1zM1688 714h1v1h-1zM1691 714h1v1h-1zM1694 714h1v1h-1zM1697 714h1v1h-1zM1700 714h1v1h-1zM1703 714h1v1h-1zM1706 714h1v1h-1zM1709 714h1v1h-1zM1712 714h1v1h-1zM1715 714h1v1h-1zM1718 714h1v1h-1zM1721 714h1v1h-1zM1724 714h1v1h-1zM1727 714h1v1h-1zM1730 714h1v1h-1zM1733 714h1v1h-1zM1736 714h1v1h-1zM1739 714h1v1h-1zM1742 714h1v1h-1zM1745 714h1v1h-1zM1748 714h1v1h-1zM1751 714h1v1h-1zM1754 714h1v1h-1zM1757 714h1v1h-1zM1760 714h1v1h-1zM1763 714h1v1h-1zM1766 714h1v1h-1zM1769 714h1v1h-1zM1772 714h1v1h-1zM1775 714h1v1h-1zM1778 714h1v1h-1zM1781 714h1v1h-1zM1784 714h1v1h-1zM1787 714h1v1h-1zM1790 714h1v1h-1zM1793 714h1v1h-1zM1796 714h1v1h-1zM1799 714h1v1h-1zM1802 714h1v1h-1zM1805 714h1v1h-1zM1808 714h1v1h-1zM1811 714h1v1h-1zM1814 714h1v1h-1zM1817 714h1v1h-1zM1820 714h1v1h-1zM1823 714h1v1h-1zM1826 714h1v1h-1zM1829 714h1v1h-1zM1832 714h1v1h-1zM1835 714h1v1h-1zM1838 714h1v1h-1zM1841 714h1v1h-1zM1844 714h1v1h-1zM1847 714h1v1h-1zM1850 714h1v1h-1zM1853 714h1v1h-1zM1856 714h1v1h-1zM1859 714h1v1h-1zM1862 714h1v1h-1zM1865 714h1v1h-1zM1868 714h1v1h-1zM1871 714h1v1h-1zM1874 714h1v1h-1zM1877 714h1v1h-1zM1880 714h1v1h-1zM1883 714h1v1h-1zM1886 714h1v1h-1zM1889 714h1v1h-1zM1892 714h1v1h-1zM1895 714h1v1h-1zM1898 714h1v1h-1zM1901 714h1v1h-1zM1904 714h1v1h-1zM1907 714h1v1h-1zM1910 714h1v1h-1zM1913 714h1v1h-1zM1916 714h1v1h-1zM1919 714h1v1h-1zM1922 714h1v1h-1zM1925 714h1v1h-1zM1928 714h1v1h-1zM1931 714h1v1h-1zM1934 714h1v1h-1zM1937 714h1v1h-1zM1940 714h1v1h-1zM1943 714h1v1h-1zM1946 714h1v1h-1zM1949 714h1v1h-1zM1952 714h1v1h-1zM1955 714h1v1h-1zM1958 714h1v1h-1zM1961 714h1v1h-1zM1964 714h1v1h-1zM1967 714h1v1h-1zM1970 714h1v1h-1zM1973 714h1v1h-1zM1976 714h1v1h-1zM1979 714h1v1h-1zM1982 714h1v1h-1zM1985 714h1v1h-1zM1988 714h1v1h-1zM1991 714h1v1h-1zM1994 714h1v1h-1zM1997 714h1v1h-1zM2000 714h1v1h-1zM2003 714h1v1h-1zM2006 714h1v1h-1zM2009 714h1v1h-1zM2012 714h1v1h-1zM2015 714h1v1h-1zM2018 714h1v1h-1zM2021 714h1v1h-1zM2024 714h1v1h-1zM2027 714h1v1h-1zM2030 714h1v1h-1zM2033 714h1v1h-1zM2036 714h1v1h-1zM2039 714h1v1h-1zM2042 714h1v1h-1zM2045 714h1v1h-1zM2048 714h1v1h-1zM2051 714h1v1h-1zM2054 714h1v1h-1zM2057 714h1v1h-1zM2060 714h1v1h-1zM2063 714h1v1h-1zM2066 714h1v1h-1zM2069 714h1v1h-1zM2072 714h1v1h-1zM2075 714h1v1h-1zM2078 714h1v1h-1zM2081 714h1v1h-1zM2084 714h1v1h-1zM2087 714h1v1h-1zM2090 714h1v1h-1zM2093 714h1v1h-1zM2096 714h1v1h-1zM2099 714h1v1h-1zM2102 714h1v1h-1zM2105 714h1v1h-1zM2108 714h1v1h-1zM2111 714h1v1h-1zM2114 714h1v1h-1zM2117 714h1v1h-1zM2120 714h1v1h-1zM2123 714h1v1h-1zM2126 714h1v1h-1zM2129 714h1v1h-1zM2132 714h1v1h-1zM2135 714h1v1h-1zM2138 714h1v1h-1zM2141 714h1v1h-1zM2144 714h1v1h-1zM2147 714h1v1h-1zM2150 714h1v1h-1zM2153 714h1v1h-1zM2156 714h1v1h-1zM2159 714h1v1h-1zM2162 714h1v1h-1zM2165 714h1v1h-1zM2168 714h1v1h-1zM2171 714h1v1h-1zM2174 714h1v1h-1zM2177 714h1v1h-1zM2180 714h1v1h-1zM2183 714h1v1h-1zM2186 714h1v1h-1zM2189 714h1v1h-1zM2192 714h1v1h-1zM2195 714h1v1h-1zM2198 714h1v1h-1zM2201 714h1v1h-1zM2204 714h1v1h-1zM2207 714h1v1h-1zM2210 714h1v1h-1zM2213 714h1v1h-1zM2216 714h1v1h-1zM2219 714h1v1h-1zM2222 714h1v1h-1zM2225 714h1v1h-1zM2228 714h1v1h-1zM2231 714h1v1h-1zM2234 714h1v1h-1zM2237 714h1v1h-1zM2240 714h1v1h-1zM2243 714h1v1h-1zM2246 714h1v1h-1zM2249 714h1v1h-1zM2252 714h1v1h-1zM2255 714h1v1h-1zM2258 714h1v1h-1zM2261 714h1v1h-1zM2264 714h1v1h-1zM2267 714h1v1h-1zM2270 714h1v1h-1zM2273 714h1v1h-1zM2276 714h1v1h-1zM2279 714h1v1h-1zM2282 714h1v1h-1zM2285 714h1v1h-1zM2288 714h1v1h-1zM2291 714h1v1h-1zM2294 714h1v1h-1zM2297 714h1v1h-1zM2300 714h1v1h-1zM2303 714h1v1h-1zM2306 714h1v1h-1zM2309 714h1v1h-1zM2312 714h1v1h-1zM2315 714h1v1h-1zM2318 714h1v1h-1zM2321 714h1v1h-1zM2324 714h1v1h-1zM2327 714h1v1h-1zM2330 714h1v1h-1zM2333 714h1v1h-1zM2336 714h1v1h-1zM2339 714h1v1h-1zM2342 714h1v1h-1zM2345 714h1v1h-1zM2348 714h1v1h-1zM2351 714h1v1h-1zM2354 714h1v1h-1zM2357 714h1v1h-1zM2360 714h1v1h-1zM2363 714h1v1h-1zM2366 714h1v1h-1zM2369 714h1v1h-1zM2372 714h1v1h-1zM2375 714h1v1h-1zM2378 714h1v1h-1zM2381 714h1v1h-1zM2384 714h1v1h-1zM2387 714h1v1h-1zM2390 714h1v1h-1zM2393 714h1v1h-1zM2396 714h1v1h-1zM2399 714h1v1h-1zM2402 714h1v1h-1zM2405 714h1v1h-1zM2408 714h1v1h-1zM2411 714h1v1h-1zM2414 714h1v1h-1zM2417 714h1v1h-1zM2420 714h1v1h-1zM2423 714h1v1h-1zM2426 714h1v1h-1zM2429 714h1v1h-1zM2432 714h1v1h-1zM2435 714h1v1h-1zM2438 714h1v1h-1z"/>
</g>
<g id="priceaxis" fill="#0c0e15" stroke="#0c0e15" stroke-width="0.3" font-size="12">
<text x="2449.8" y="4" textLength="36.3" lengthAdjust="spacingAndGlyphs">25,800</text>
<text x="2449.8" y="35" textLength="36.3" lengthAdjust="spacingAndGlyphs">25,780</text>
<text x="2449.8" y="66" textLength="36.3" lengthAdjust="spacingAndGlyphs">25,760</text>
<text x="2449.8" y="96" textLength="36.3" lengthAdjust="spacingAndGlyphs">25,740</text>
<text x="2449.8" y="127" textLength="36.3" lengthAdjust="spacingAndGlyphs">25,720</text>
<text x="2449.8" y="158" textLength="36.3" lengthAdjust="spacingAndGlyphs">25,700</text>
<text x="2449.8" y="189" textLength="36.3" lengthAdjust="spacingAndGlyphs">25,680</text>
<text x="2449.8" y="219" textLength="36.3" lengthAdjust="spacingAndGlyphs">25,660</text>
<text x="2449.8" y="250" textLength="36.3" lengthAdjust="spacingAndGlyphs">25,640</text>
<text x="2449.8" y="281" textLength="36.3" lengthAdjust="spacingAndGlyphs">25,620</text>
<text x="2449.8" y="312" textLength="36.3" lengthAdjust="spacingAndGlyphs">25,600</text>
<text x="2449.8" y="342" textLength="36.3" lengthAdjust="spacingAndGlyphs">25,580</text>
<text x="2449.8" y="373" textLength="36.3" lengthAdjust="spacingAndGlyphs">25,560</text>
<text x="2449.8" y="404" textLength="36.3" lengthAdjust="spacingAndGlyphs">25,540</text>
<text x="2449.8" y="435" textLength="36.3" lengthAdjust="spacingAndGlyphs">25,520</text>
<text x="2449.8" y="465" textLength="36.3" lengthAdjust="spacingAndGlyphs">25,500</text>
<text x="2449.8" y="496" textLength="36.3" lengthAdjust="spacingAndGlyphs">25,480</text>
<text x="2449.8" y="527" textLength="36.3" lengthAdjust="spacingAndGlyphs">25,460</text>
<text x="2449.8" y="558" textLength="36.3" lengthAdjust="spacingAndGlyphs">25,440</text>
<text x="2449.8" y="588" textLength="36.3" lengthAdjust="spacingAndGlyphs">25,420</text>
<text x="2449.8" y="619" textLength="36.3" lengthAdjust="spacingAndGlyphs">25,400</text>
<text x="2449.8" y="650" textLength="36.3" lengthAdjust="spacingAndGlyphs">25,380</text>
<text x="2449.8" y="681" textLength="36.3" lengthAdjust="spacingAndGlyphs">25,360</text>
<text x="2449.8" y="711" textLength="36.3" lengthAdjust="spacingAndGlyphs">25,340</text>
<text x="2449.8" y="742" textLength="36.3" lengthAdjust="spacingAndGlyphs">25,320</text>
<text x="2449.8" y="773" textLength="36.3" lengthAdjust="spacingAndGlyphs">25,300</text>
<text x="2449.8" y="804" textLength="36.3" lengthAdjust="spacingAndGlyphs">25,280</text>
<text x="2449.8" y="834" textLength="36.3" lengthAdjust="spacingAndGlyphs">25,260</text>
<text x="2449.8" y="865" textLength="36.3" lengthAdjust="spacingAndGlyphs">25,240</text>
<text x="2449.8" y="896" textLength="36.3" lengthAdjust="spacingAndGlyphs">25,220</text>
<text x="2449.8" y="927" textLength="36.3" lengthAdjust="spacingAndGlyphs">25,200</text>
<text x="2449.8" y="957" textLength="36.3" lengthAdjust="spacingAndGlyphs">25,180</text>
<text x="2449.8" y="988" textLength="36.3" lengthAdjust="spacingAndGlyphs">25,160</text>
<text x="2449.8" y="1019" textLength="36.3" lengthAdjust="spacingAndGlyphs">25,140</text>
<text x="2449.8" y="1050" textLength="36.3" lengthAdjust="spacingAndGlyphs">25,120</text>
<text x="2449.8" y="1080" textLength="36.3" lengthAdjust="spacingAndGlyphs">25,100</text>
<text x="2449.8" y="1111" textLength="36.3" lengthAdjust="spacingAndGlyphs">25,080</text>
<text x="2449.8" y="1142" textLength="36.3" lengthAdjust="spacingAndGlyphs">25,060</text>
</g>
<g id="timeaxis" fill="#0c0e15" stroke="#0c0e15" stroke-width="0.25" font-size="12" text-anchor="middle">
<text x="56.5" y="1187" textLength="29.8" lengthAdjust="spacingAndGlyphs">09:20</text>
<text x="129.5" y="1187" textLength="29.8" lengthAdjust="spacingAndGlyphs">09:25</text>
<text x="202.5" y="1187" textLength="29.8" lengthAdjust="spacingAndGlyphs">09:30</text>
<text x="275.5" y="1187" textLength="29.8" lengthAdjust="spacingAndGlyphs">09:35</text>
<text x="348.5" y="1187" textLength="29.8" lengthAdjust="spacingAndGlyphs">09:40</text>
<text x="421.5" y="1187" textLength="29.8" lengthAdjust="spacingAndGlyphs">09:45</text>
<text x="495.5" y="1187" textLength="29.8" lengthAdjust="spacingAndGlyphs">09:50</text>
<text x="568.5" y="1187" textLength="29.8" lengthAdjust="spacingAndGlyphs">09:55</text>
<text x="641.5" y="1187" font-weight="700" textLength="31.8" lengthAdjust="spacingAndGlyphs">10:00</text>
<text x="714.5" y="1187" textLength="29.8" lengthAdjust="spacingAndGlyphs">10:05</text>
<text x="787.5" y="1187" textLength="29.8" lengthAdjust="spacingAndGlyphs">10:10</text>
<text x="860.5" y="1187" textLength="29.8" lengthAdjust="spacingAndGlyphs">10:15</text>
<text x="934.5" y="1187" textLength="29.8" lengthAdjust="spacingAndGlyphs">10:20</text>
<text x="1007.5" y="1187" textLength="29.8" lengthAdjust="spacingAndGlyphs">10:25</text>
<text x="1080.5" y="1187" textLength="29.8" lengthAdjust="spacingAndGlyphs">10:30</text>
<text x="1153.5" y="1187" textLength="29.8" lengthAdjust="spacingAndGlyphs">10:35</text>
<text x="1226.5" y="1187" textLength="29.8" lengthAdjust="spacingAndGlyphs">10:40</text>
<text x="1299.5" y="1187" textLength="29.8" lengthAdjust="spacingAndGlyphs">10:45</text>
<text x="1373.5" y="1187" textLength="29.8" lengthAdjust="spacingAndGlyphs">10:50</text>
<text x="1446.5" y="1187" textLength="29.8" lengthAdjust="spacingAndGlyphs">10:55</text>
<text x="1519.5" y="1187" font-weight="700" textLength="31.8" lengthAdjust="spacingAndGlyphs">11:00</text>
<text x="1592.5" y="1187" textLength="29.8" lengthAdjust="spacingAndGlyphs">11:05</text>
<text x="1665.5" y="1187" textLength="29.8" lengthAdjust="spacingAndGlyphs">11:10</text>
<text x="1739.5" y="1187" textLength="29.8" lengthAdjust="spacingAndGlyphs">11:15</text>
<text x="1812.5" y="1187" textLength="29.8" lengthAdjust="spacingAndGlyphs">11:20</text>
<text x="1885.5" y="1187" textLength="29.8" lengthAdjust="spacingAndGlyphs">11:25</text>
<text x="1958.5" y="1187" textLength="29.8" lengthAdjust="spacingAndGlyphs">11:30</text>
<text x="2031.5" y="1187" textLength="29.8" lengthAdjust="spacingAndGlyphs">11:35</text>
<text x="2104.5" y="1187" textLength="29.8" lengthAdjust="spacingAndGlyphs">11:40</text>
<text x="2178.5" y="1187" textLength="29.8" lengthAdjust="spacingAndGlyphs">11:45</text>
<text x="2251.5" y="1187" textLength="29.8" lengthAdjust="spacingAndGlyphs">11:50</text>
<text x="2324.5" y="1187" textLength="29.8" lengthAdjust="spacingAndGlyphs">11:55</text>
<text x="2397.5" y="1187" font-weight="700" textLength="31.8" lengthAdjust="spacingAndGlyphs">12:00</text>
</g>
<g id="lightning" fill="none" stroke="#9c27b0" stroke-width="1.4"><circle cx="2382.45" cy="1156.5" r="9.7"/></g>
<path id="bolt" fill="#9c27b0" d="M2386.1 1150.8 L2377.8 1157 L2381.7 1157.45 L2378.9 1162 L2386.9 1156.1 L2383.05 1155.65 Z"/>
<g id="settings" fill="none" stroke="#131722" stroke-width="1.2" stroke-linejoin="round"><path d="M2461.7 1183.45 L2464.95 1177.75 L2472.05 1177.75 L2475.3 1183.45 L2472.05 1189.15 L2464.95 1189.15 Z"/><circle cx="2468.5" cy="1183.45" r="2"/></g>
<g id="tvlogo" fill="#0f0f0f" stroke="#fff" stroke-width="4.4" paint-order="stroke" stroke-linejoin="round">
<g transform="translate(10.85,1136.6666666666667) scale(0.8507,0.8333333333333334)"><path d="M14 22H7V11H0V4h14v18zM28 22h-8l7.5-18h8L28 22z"/><circle cx="20" cy="8" r="4"/></g>
<text x="47.9" y="1154.8" font-size="20.4" font-weight="700" textLength="121.3" lengthAdjust="spacingAndGlyphs" stroke-width="4">TradingView</text>
</g>
<g id="legend">
<circle cx="17" cy="16" r="9" fill="#dd2028"/>
<linearGradient id="hsfade" x1="0" y1="0" x2="0" y2="1"><stop offset="0" stop-color="#fff" stop-opacity="0.68"/><stop offset="0.7" stop-color="#fff" stop-opacity="0.55"/><stop offset="1" stop-color="#fff" stop-opacity="0"/></linearGradient>
<path fill="#fff" d="M15.08 11.36H18.99V12.56H15.08Z"/>
<path fill="#fff" fill-opacity="0.8" d="M15.3 12.56H18.77V13.2H15.3Z"/>
<path fill="#fff" d="M14.1 13.2H16.06L16.22 21.03H13V20.4L13.9 19.1Z"/>
<path fill="#fff" d="M19.96 13.2H18L17.84 21.03H21.06V20.4L20.16 19.1Z"/>
<path fill="url(#hsfade)" d="M16.06 13.2H18L17.9 18.7H16.16Z"/>
<g id="title" font-size="15" fill="#0c0e15" stroke="#0c0e15" stroke-width="0.12">
<text x="29.5" y="22" textLength="36.2" lengthAdjust="spacingAndGlyphs">Hang</text>
<text x="69.8" y="22" textLength="34.1" lengthAdjust="spacingAndGlyphs">Seng</text>
<text x="107.9" y="22" textLength="39.2" lengthAdjust="spacingAndGlyphs">Index</text>
<text x="152.0" y="22" textLength="53.5" lengthAdjust="spacingAndGlyphs">Futures</text>
<text x="218.0" y="22">1</text>
<text x="238.1" y="22" textLength="37.2" lengthAdjust="spacingAndGlyphs">HKEX</text>
<rect x="210.5" y="15.7" width="2.6" height="2.6" rx="0.5"/><rect x="230.9" y="15.7" width="2.6" height="2.6" rx="0.5"/>
</g>
<clipPath id="pillclip"><rect x="283" y="7" width="58" height="18" rx="9" ry="9"/></clipPath>
<g clip-path="url(#pillclip)"><rect x="283" y="7" width="20" height="18" fill="#daf0ec"/><rect x="303" y="7" width="18" height="18" fill="#ffe5c4"/><rect x="321" y="7" width="20" height="18" fill="#fde4e7"/></g>
<circle cx="294" cy="16" r="4" fill="#089981"/>
<text x="308" y="20.7" font-size="12.8" font-weight="700" fill="#f57c00" textLength="8.6" lengthAdjust="spacingAndGlyphs">D</text>
<text x="328.2" y="21.1" font-size="13.6" font-weight="700" fill="#cc2a36" textLength="3.8" lengthAdjust="spacingAndGlyphs">!</text>
<text x="348.8" y="21" font-size="13" fill="#131722" textLength="10.0" lengthAdjust="spacingAndGlyphs">O</text>
<text x="359.2" y="21" font-size="13" fill="#089981" textLength="38.4" lengthAdjust="spacingAndGlyphs">25,331</text>
<text x="403.5" y="21" font-size="13" fill="#131722" textLength="9.5" lengthAdjust="spacingAndGlyphs">H</text>
<text x="413.3" y="21" font-size="13" fill="#089981" textLength="39.2" lengthAdjust="spacingAndGlyphs">25,336</text>
<text x="457.8" y="21" font-size="13" fill="#131722" textLength="7.4" lengthAdjust="spacingAndGlyphs">L</text>
<text x="465.8" y="21" font-size="13" fill="#089981" textLength="39.2" lengthAdjust="spacingAndGlyphs">25,327</text>
<text x="510.3" y="21" font-size="13" fill="#131722" textLength="8.6" lengthAdjust="spacingAndGlyphs">C</text>
<text x="520.0" y="21" font-size="13" fill="#089981" textLength="38.8" lengthAdjust="spacingAndGlyphs">25,336</text>
<text x="564.2" y="21" font-size="13" fill="#089981" textLength="14" lengthAdjust="spacingAndGlyphs">+5</text>
<text x="582.8" y="21" font-size="13" fill="#089981" textLength="49" lengthAdjust="spacingAndGlyphs">(+0.02%)</text>
</g>
</svg>
<div class="btn" id="sell"></div><div class="btn" id="buy"></div>
<div id="lastprice"></div>
<svg style="position:absolute;left:0;top:0" width="2495" height="1197" viewBox="0 0 2495 1197">
<text x="19.1" y="46" font-size="12.5" fill="#f23645" textLength="39.6" lengthAdjust="spacingAndGlyphs">25,335</text>
<text x="26.3" y="60" font-size="11.2" fill="#f23645" textLength="24.3" lengthAdjust="spacingAndGlyphs">SELL</text>
<text x="77.45" y="52" font-size="10.6" fill="#131722" textLength="5.7" lengthAdjust="spacingAndGlyphs">2</text>
<text x="102.3" y="46" font-size="12.5" fill="#2962ff" textLength="39.0" lengthAdjust="spacingAndGlyphs">25,337</text>
<text x="110.9" y="60" font-size="11.2" fill="#2962ff" textLength="21" lengthAdjust="spacingAndGlyphs">BUY</text>
<text x="2449.8" y="718" font-size="12" fill="#fff" stroke="#fff" stroke-width="0.35" textLength="36.3" lengthAdjust="spacingAndGlyphs">25,336</text>
</svg>
</body></html>
